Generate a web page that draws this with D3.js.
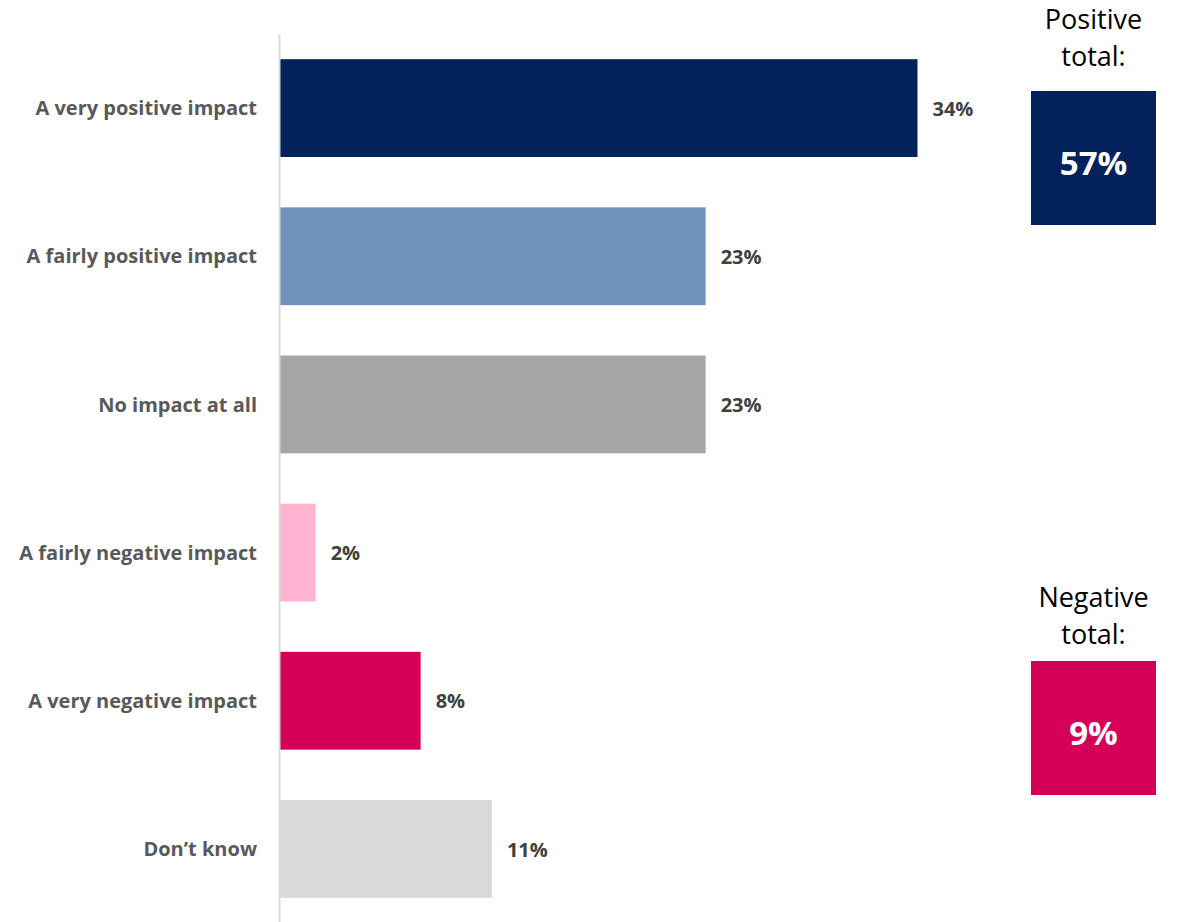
<!DOCTYPE html>
<html>
<head>
<meta charset="utf-8">
<script src="https://cdn.jsdelivr.net/npm/d3@7"></script>
<style>
  body { margin: 0; background: #fff; }
  svg text { font-family: "Open Sans", sans-serif; }
</style>
</head>
<body>
<div id="chart"></div>
<script>
// categories, top to bottom
const categories = [
    "A very positive impact",
    "A fairly positive impact",
    "No impact at all",
    "A fairly negative impact",
    "A very negative impact",
    "Don\u2019t know"
];
// shares in percent
const values = [34, 22.7, 22.7, 1.9, 7.5, 11.3];
const colors = ["#03215B", "#6F91BA", "#A6A6A6", "#FFB3D1", "#D50057", "#D9D9D9"];

const totalLabels = [["Positive", "total:"], ["Negative", "total:"]];
const totalValues = [57, 9];
const totalColors = ["#03215B", "#D50057"];

const W = 1178, H = 922;
const svg = d3.select("#chart")
    .append("svg")
    .attr("width", W)
    .attr("height", H);

const x = d3.scaleLinear().domain([0, 34]).range([280, 917.5]);
const y = d3.scaleBand()
    .domain(categories)
    .range([34, 923])
    .paddingInner(0.34)
    .paddingOuter(0.17);

const pct = d3.format(".0f");

// bars
svg.selectAll("rect.bar")
    .data(categories)
    .join("rect")
    .attr("class", "bar")
    .attr("x", x(0))
    .attr("y", d => y(d))
    .attr("width", (d, i) => x(values[i]) - x(0))
    .attr("height", y.bandwidth())
    .attr("fill", (d, i) => colors[i]);

// value labels
svg.selectAll("text.val")
    .data(categories)
    .join("text")
    .attr("class", "val")
    .attr("x", (d, i) => x(values[i]) + 15)
    .attr("y", d => y(d) + y.bandwidth() / 2)
    .attr("dy", "0.38em")
    .attr("fill", "#404040")
    .attr("font-size", 20)
    .attr("font-weight", "bold")
    .text((d, i) => pct(values[i]) + "%");

// category axis
const yAxis = svg.append("g")
    .attr("transform", `translate(${x(0) - 1},0)`)
    .call(d3.axisLeft(y).tickSize(0).tickPadding(22));
yAxis.select(".domain").attr("stroke", "#D9D9D9").attr("stroke-width", 2);
yAxis.selectAll("text")
    .attr("fill", "#595959")
    .attr("font-size", 20)
    .attr("font-weight", "bold")
    .attr("dy", "0.36em")
    .style("font-family", "'Open Sans', sans-serif");

// total boxes on the right
const boxX = 1031, boxW = 125, boxH = 134;
const boxTops = [91, 661];
const headBase = [[-62, -25], [-54, -17]];
const totals = svg.selectAll("g.total")
    .data(totalValues)
    .join("g")
    .attr("class", "total")
    .attr("transform", (d, i) => `translate(${boxX},${boxTops[i]})`);

totals.append("rect")
    .attr("width", boxW)
    .attr("height", boxH)
    .attr("fill", (d, i) => totalColors[i]);

totals.append("text")
    .attr("x", boxW / 2)
    .attr("y", 84)
    .attr("text-anchor", "middle")
    .attr("fill", "#fff")
    .attr("font-size", 33)
    .attr("font-weight", "bold")
    .text(d => d + "%");

totals.each(function(d, i) {
    d3.select(this).selectAll("text.head")
        .data(totalLabels[i])
        .join("text")
        .attr("class", "head")
        .attr("x", boxW / 2)
        .attr("y", (t, j) => headBase[i][j])
        .attr("text-anchor", "middle")
        .attr("fill", "#000")
        .attr("font-size", 27)
        .text(t => t);
});
</script>
</body>
</html>
